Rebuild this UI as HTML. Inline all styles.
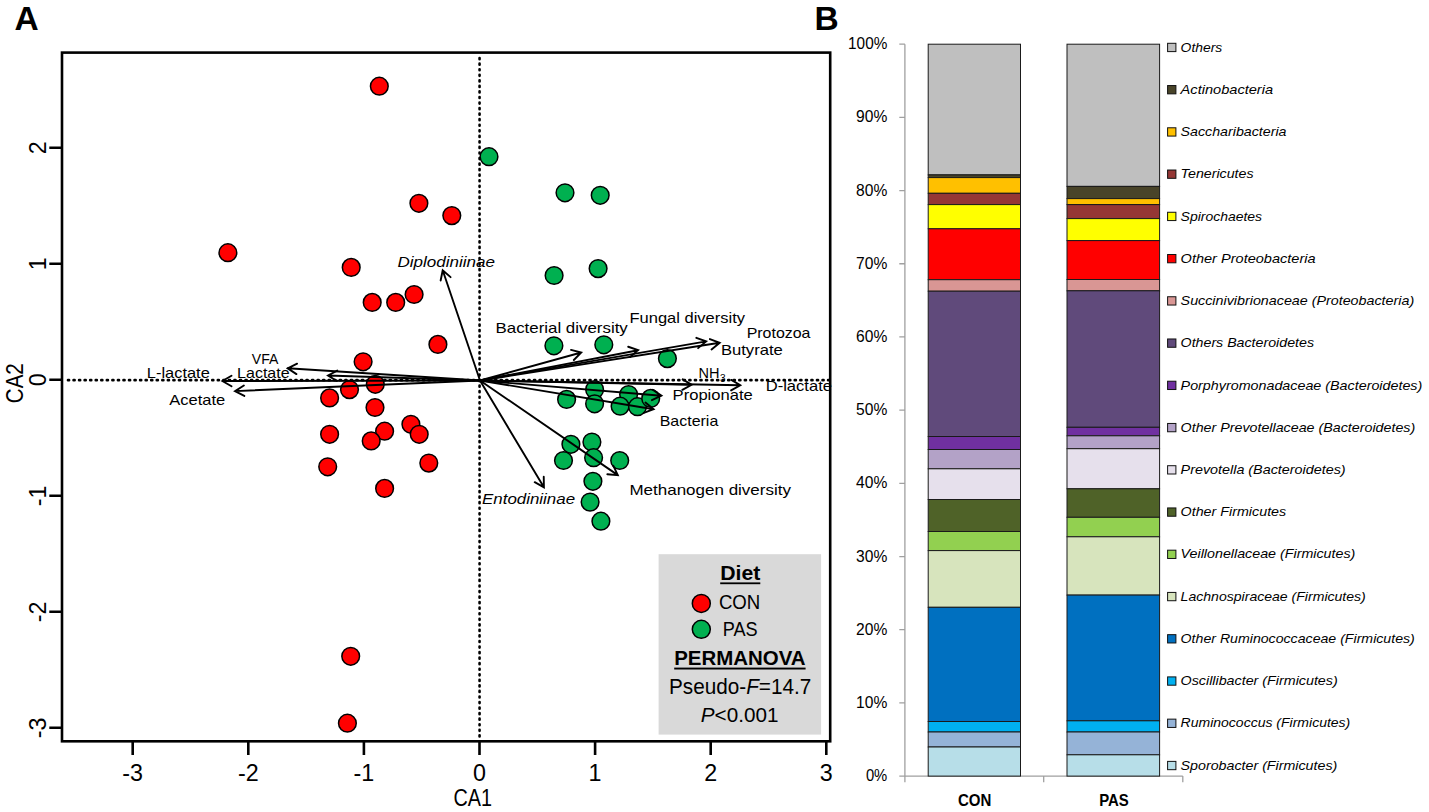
<!DOCTYPE html>
<html><head><meta charset="utf-8"><style>
html,body{margin:0;padding:0;background:#fff;}
svg{display:block;font-family:"Liberation Sans", sans-serif;}
</style></head><body>
<svg width="1429" height="812" viewBox="0 0 1429 812">
<rect width="1429" height="812" fill="#fff"/>
<text x="14.6" y="29.6" font-size="33.5" text-anchor="start" font-weight="bold" font-style="normal" fill="#000" >A</text>
<text x="814.6" y="29.6" font-size="33.5" text-anchor="start" font-weight="bold" font-style="normal" fill="#000" >B</text>
<rect x="62" y="52.6" width="768.2" height="688.6999999999999" fill="none" stroke="#000" stroke-width="2.6"/>
<text x="132.70" y="780.6" font-size="23.3" text-anchor="middle" font-weight="normal" font-style="normal" fill="#000" >-3</text>
<text x="248.30" y="780.6" font-size="23.3" text-anchor="middle" font-weight="normal" font-style="normal" fill="#000" >-2</text>
<text x="363.90" y="780.6" font-size="23.3" text-anchor="middle" font-weight="normal" font-style="normal" fill="#000" >-1</text>
<text x="479.50" y="780.6" font-size="23.3" text-anchor="middle" font-weight="normal" font-style="normal" fill="#000" >0</text>
<text x="595.10" y="780.6" font-size="23.3" text-anchor="middle" font-weight="normal" font-style="normal" fill="#000" >1</text>
<text x="710.70" y="780.6" font-size="23.3" text-anchor="middle" font-weight="normal" font-style="normal" fill="#000" >2</text>
<text x="826.30" y="780.6" font-size="23.3" text-anchor="middle" font-weight="normal" font-style="normal" fill="#000" >3</text>
<text transform="translate(45.6,727.80) rotate(-90)" font-size="23.3" text-anchor="middle">-3</text>
<text transform="translate(45.6,611.80) rotate(-90)" font-size="23.3" text-anchor="middle">-2</text>
<text transform="translate(45.6,495.80) rotate(-90)" font-size="23.3" text-anchor="middle">-1</text>
<text transform="translate(45.6,379.80) rotate(-90)" font-size="23.3" text-anchor="middle">0</text>
<text transform="translate(45.6,263.80) rotate(-90)" font-size="23.3" text-anchor="middle">1</text>
<text transform="translate(45.6,147.80) rotate(-90)" font-size="23.3" text-anchor="middle">2</text>
<path d="M132.70,741.3L132.70,755 M248.30,741.3L248.30,755 M363.90,741.3L363.90,755 M479.50,741.3L479.50,755 M595.10,741.3L595.10,755 M710.70,741.3L710.70,755 M826.30,741.3L826.30,755 M49.3,727.80L62,727.80 M49.3,611.80L62,611.80 M49.3,495.80L62,495.80 M49.3,379.80L62,379.80 M49.3,263.80L62,263.80 M49.3,147.80L62,147.80" stroke="#000" stroke-width="2.6" fill="none"/>
<text x="472.7" y="805.6" font-size="23.3" text-anchor="middle" font-weight="normal" font-style="normal" fill="#000" textLength="38.5" lengthAdjust="spacingAndGlyphs" >CA1</text>
<text transform="translate(23.2,383.2) rotate(-90)" font-size="23.3" text-anchor="middle" textLength="40" lengthAdjust="spacingAndGlyphs">CA2</text>
<line x1="67.99" y1="380.17" x2="829" y2="380.17" stroke="#000" stroke-width="2.6" stroke-dasharray="1.1 4.448" stroke-linecap="round"/>
<line x1="479.56" y1="58.1" x2="479.56" y2="740" stroke="#000" stroke-width="2.6" stroke-dasharray="1.1 4.4508" stroke-linecap="round"/>
<circle cx="379.3" cy="86.2" r="8.85" fill="#FF0000" stroke="#000" stroke-width="1.5"/>
<circle cx="418.9" cy="203.3" r="8.85" fill="#FF0000" stroke="#000" stroke-width="1.5"/>
<circle cx="451.8" cy="215.6" r="8.85" fill="#FF0000" stroke="#000" stroke-width="1.5"/>
<circle cx="227.9" cy="252.7" r="8.85" fill="#FF0000" stroke="#000" stroke-width="1.5"/>
<circle cx="351.2" cy="267.4" r="8.85" fill="#FF0000" stroke="#000" stroke-width="1.5"/>
<circle cx="372.2" cy="302.4" r="8.85" fill="#FF0000" stroke="#000" stroke-width="1.5"/>
<circle cx="395.7" cy="302.4" r="8.85" fill="#FF0000" stroke="#000" stroke-width="1.5"/>
<circle cx="414.1" cy="294.5" r="8.85" fill="#FF0000" stroke="#000" stroke-width="1.5"/>
<circle cx="437.9" cy="344.4" r="8.85" fill="#FF0000" stroke="#000" stroke-width="1.5"/>
<circle cx="363.1" cy="361.8" r="8.85" fill="#FF0000" stroke="#000" stroke-width="1.5"/>
<circle cx="375.3" cy="384.3" r="8.85" fill="#FF0000" stroke="#000" stroke-width="1.5"/>
<circle cx="349.5" cy="389.6" r="8.85" fill="#FF0000" stroke="#000" stroke-width="1.5"/>
<circle cx="329.6" cy="397.9" r="8.85" fill="#FF0000" stroke="#000" stroke-width="1.5"/>
<circle cx="375" cy="407.5" r="8.85" fill="#FF0000" stroke="#000" stroke-width="1.5"/>
<circle cx="329.6" cy="434.3" r="8.85" fill="#FF0000" stroke="#000" stroke-width="1.5"/>
<circle cx="384.6" cy="431.2" r="8.85" fill="#FF0000" stroke="#000" stroke-width="1.5"/>
<circle cx="371.2" cy="440.9" r="8.85" fill="#FF0000" stroke="#000" stroke-width="1.5"/>
<circle cx="410.9" cy="424.3" r="8.85" fill="#FF0000" stroke="#000" stroke-width="1.5"/>
<circle cx="419.2" cy="434.3" r="8.85" fill="#FF0000" stroke="#000" stroke-width="1.5"/>
<circle cx="327.7" cy="466.8" r="8.85" fill="#FF0000" stroke="#000" stroke-width="1.5"/>
<circle cx="428.8" cy="463.1" r="8.85" fill="#FF0000" stroke="#000" stroke-width="1.5"/>
<circle cx="384.6" cy="488.4" r="8.85" fill="#FF0000" stroke="#000" stroke-width="1.5"/>
<circle cx="350.7" cy="656.3" r="8.85" fill="#FF0000" stroke="#000" stroke-width="1.5"/>
<circle cx="347.4" cy="723.2" r="8.85" fill="#FF0000" stroke="#000" stroke-width="1.5"/>
<circle cx="489" cy="156.7" r="8.85" fill="#00B050" stroke="#000" stroke-width="1.5"/>
<circle cx="565" cy="192.8" r="8.85" fill="#00B050" stroke="#000" stroke-width="1.5"/>
<circle cx="600.2" cy="195.3" r="8.85" fill="#00B050" stroke="#000" stroke-width="1.5"/>
<circle cx="554.1" cy="275.5" r="8.85" fill="#00B050" stroke="#000" stroke-width="1.5"/>
<circle cx="598.1" cy="268.6" r="8.85" fill="#00B050" stroke="#000" stroke-width="1.5"/>
<circle cx="553.9" cy="345.8" r="8.85" fill="#00B050" stroke="#000" stroke-width="1.5"/>
<circle cx="603.8" cy="344.8" r="8.85" fill="#00B050" stroke="#000" stroke-width="1.5"/>
<circle cx="667.4" cy="358.6" r="8.85" fill="#00B050" stroke="#000" stroke-width="1.5"/>
<circle cx="594.6" cy="389.6" r="8.85" fill="#00B050" stroke="#000" stroke-width="1.5"/>
<circle cx="566.6" cy="399.4" r="8.85" fill="#00B050" stroke="#000" stroke-width="1.5"/>
<circle cx="594.6" cy="403.8" r="8.85" fill="#00B050" stroke="#000" stroke-width="1.5"/>
<circle cx="628.6" cy="394.5" r="8.85" fill="#00B050" stroke="#000" stroke-width="1.5"/>
<circle cx="620.1" cy="406.2" r="8.85" fill="#00B050" stroke="#000" stroke-width="1.5"/>
<circle cx="637.5" cy="406.7" r="8.85" fill="#00B050" stroke="#000" stroke-width="1.5"/>
<circle cx="650.7" cy="398.4" r="8.85" fill="#00B050" stroke="#000" stroke-width="1.5"/>
<circle cx="570.9" cy="444.3" r="8.85" fill="#00B050" stroke="#000" stroke-width="1.5"/>
<circle cx="591.9" cy="442" r="8.85" fill="#00B050" stroke="#000" stroke-width="1.5"/>
<circle cx="563.5" cy="460.5" r="8.85" fill="#00B050" stroke="#000" stroke-width="1.5"/>
<circle cx="593.6" cy="457.7" r="8.85" fill="#00B050" stroke="#000" stroke-width="1.5"/>
<circle cx="619.7" cy="460.5" r="8.85" fill="#00B050" stroke="#000" stroke-width="1.5"/>
<circle cx="592.9" cy="481.3" r="8.85" fill="#00B050" stroke="#000" stroke-width="1.5"/>
<circle cx="590.1" cy="502.1" r="8.85" fill="#00B050" stroke="#000" stroke-width="1.5"/>
<circle cx="600.9" cy="521.2" r="8.85" fill="#00B050" stroke="#000" stroke-width="1.5"/>
<path d="M480.0,380.5L442.70,270.20M440.64,280.50L442.70,270.20L450.59,277.13" fill="none" stroke="#000" stroke-width="1.9" stroke-linecap="round" stroke-linejoin="miter"/>
<path d="M480.0,380.5L287.70,368.30M296.44,374.12L287.70,368.30L297.11,363.64" fill="none" stroke="#000" stroke-width="1.9" stroke-linecap="round" stroke-linejoin="miter"/>
<path d="M480.0,380.5L328.00,375.50M336.92,381.05L328.00,375.50L337.26,370.55" fill="none" stroke="#000" stroke-width="1.9" stroke-linecap="round" stroke-linejoin="miter"/>
<path d="M480.0,380.5L222.40,381.00M231.50,386.23L222.40,381.00L231.48,375.73" fill="none" stroke="#000" stroke-width="1.9" stroke-linecap="round" stroke-linejoin="miter"/>
<path d="M480.0,380.5L235.00,391.10M244.31,395.95L235.00,391.10L243.86,385.46" fill="none" stroke="#000" stroke-width="1.9" stroke-linecap="round" stroke-linejoin="miter"/>
<path d="M480.0,380.5L581.20,352.50M571.04,349.86L581.20,352.50L573.84,359.98" fill="none" stroke="#000" stroke-width="1.9" stroke-linecap="round" stroke-linejoin="miter"/>
<path d="M480.0,380.5L638.10,350.20M628.18,346.76L638.10,350.20L630.16,357.07" fill="none" stroke="#000" stroke-width="1.9" stroke-linecap="round" stroke-linejoin="miter"/>
<path d="M480.0,380.5L706.20,341.40M696.35,337.78L706.20,341.40L698.13,348.12" fill="none" stroke="#000" stroke-width="1.9" stroke-linecap="round" stroke-linejoin="miter"/>
<path d="M480.0,380.5L719.70,342.80M709.90,339.03L719.70,342.80L711.53,349.40" fill="none" stroke="#000" stroke-width="1.9" stroke-linecap="round" stroke-linejoin="miter"/>
<path d="M480.0,380.5L691.60,384.80M682.62,379.37L691.60,384.80L682.40,389.86" fill="none" stroke="#000" stroke-width="1.9" stroke-linecap="round" stroke-linejoin="miter"/>
<path d="M480.0,380.5L740.30,385.30M731.31,379.88L740.30,385.30L731.11,390.38" fill="none" stroke="#000" stroke-width="1.9" stroke-linecap="round" stroke-linejoin="miter"/>
<path d="M480.0,380.5L661.40,395.70M652.78,389.71L661.40,395.70L651.90,400.17" fill="none" stroke="#000" stroke-width="1.9" stroke-linecap="round" stroke-linejoin="miter"/>
<path d="M480.0,380.5L653.60,409.20M645.48,402.54L653.60,409.20L643.77,412.90" fill="none" stroke="#000" stroke-width="1.9" stroke-linecap="round" stroke-linejoin="miter"/>
<path d="M480.0,380.5L543.90,487.30M543.74,476.80L543.90,487.30L534.73,482.19" fill="none" stroke="#000" stroke-width="1.9" stroke-linecap="round" stroke-linejoin="miter"/>
<path d="M480.0,380.5L617.80,475.10M613.27,465.63L617.80,475.10L607.33,474.28" fill="none" stroke="#000" stroke-width="1.9" stroke-linecap="round" stroke-linejoin="miter"/>
<text x="397.4" y="266.7" font-size="15" text-anchor="start" font-weight="normal" font-style="italic" fill="#000" textLength="97.6" lengthAdjust="spacingAndGlyphs" >Diplodiniinae</text>
<text x="251.8" y="363.8" font-size="15" text-anchor="start" font-weight="normal" font-style="normal" fill="#000" textLength="26.6" lengthAdjust="spacingAndGlyphs" >VFA</text>
<text x="237.1" y="377.8" font-size="15" text-anchor="start" font-weight="normal" font-style="normal" fill="#000" textLength="52.5" lengthAdjust="spacingAndGlyphs" >Lactate</text>
<text x="146.8" y="377.8" font-size="15" text-anchor="start" font-weight="normal" font-style="normal" fill="#000" textLength="63" lengthAdjust="spacingAndGlyphs" >L-lactate</text>
<text x="169.2" y="405.1" font-size="15" text-anchor="start" font-weight="normal" font-style="normal" fill="#000" textLength="56" lengthAdjust="spacingAndGlyphs" >Acetate</text>
<text x="495.5" y="332.5" font-size="15" text-anchor="start" font-weight="normal" font-style="normal" fill="#000" textLength="132.3" lengthAdjust="spacingAndGlyphs" >Bacterial diversity</text>
<text x="629.5" y="323.3" font-size="15" text-anchor="start" font-weight="normal" font-style="normal" fill="#000" textLength="115.5" lengthAdjust="spacingAndGlyphs" >Fungal diversity</text>
<text x="746.7" y="337.6" font-size="15" text-anchor="start" font-weight="normal" font-style="normal" fill="#000" textLength="63.8" lengthAdjust="spacingAndGlyphs" >Protozoa</text>
<text x="720.9" y="355.2" font-size="15" text-anchor="start" font-weight="normal" font-style="normal" fill="#000" textLength="62" lengthAdjust="spacingAndGlyphs" >Butyrate</text>
<text x="765.7" y="390.7" font-size="15" text-anchor="start" font-weight="normal" font-style="normal" fill="#000" textLength="66.3" lengthAdjust="spacingAndGlyphs" >D-lactate</text>
<text x="672.6" y="400" font-size="15" text-anchor="start" font-weight="normal" font-style="normal" fill="#000" textLength="80.2" lengthAdjust="spacingAndGlyphs" >Propionate</text>
<text x="659.7" y="425.9" font-size="15" text-anchor="start" font-weight="normal" font-style="normal" fill="#000" textLength="58.6" lengthAdjust="spacingAndGlyphs" >Bacteria</text>
<text x="482" y="504.4" font-size="15" text-anchor="start" font-weight="normal" font-style="italic" fill="#000" textLength="93.1" lengthAdjust="spacingAndGlyphs" >Entodiniinae</text>
<text x="629.4" y="495.2" font-size="15" text-anchor="start" font-weight="normal" font-style="normal" fill="#000" textLength="161.6" lengthAdjust="spacingAndGlyphs" >Methanogen diversity</text>
<text x="698.4" y="378.4" font-size="15" text-anchor="start" font-weight="normal" font-style="normal" fill="#000" textLength="21" lengthAdjust="spacingAndGlyphs" >NH</text>
<text x="720" y="381.5" font-size="10" text-anchor="start" font-weight="normal" font-style="normal" fill="#000" >3</text>
<rect x="658.6" y="554.2" width="162.5" height="180.4" fill="#D9D9D9"/>
<text x="720.2" y="580.1" font-size="20" text-anchor="start" font-weight="bold" font-style="normal" fill="#000" textLength="40.1" lengthAdjust="spacingAndGlyphs" >Diet</text>
<rect x="720.2" y="582.4" width="40.1" height="1.8" fill="#000"/>
<circle cx="701.3" cy="603.4" r="9" fill="#FF0000" stroke="#000" stroke-width="1.5"/>
<text x="718.9" y="608.6" font-size="20" text-anchor="start" font-weight="normal" font-style="normal" fill="#000" textLength="41.4" lengthAdjust="spacingAndGlyphs" >CON</text>
<circle cx="701.3" cy="629.3" r="9" fill="#00B050" stroke="#000" stroke-width="1.5"/>
<text x="722.8" y="636.2" font-size="20" text-anchor="start" font-weight="normal" font-style="normal" fill="#000" textLength="34.9" lengthAdjust="spacingAndGlyphs" >PAS</text>
<text x="674.2" y="664.7" font-size="20" text-anchor="start" font-weight="bold" font-style="normal" fill="#000" textLength="131.4" lengthAdjust="spacingAndGlyphs" >PERMANOVA</text>
<rect x="674.2" y="667.6" width="131.4" height="1.9" fill="#000"/>
<text x="669" y="693.9" font-size="21.3" textLength="142.3" lengthAdjust="spacingAndGlyphs">Pseudo-<tspan font-style="italic">F</tspan>=14.7</text>
<text x="700.8" y="721.9" font-size="21" textLength="77.6" lengthAdjust="spacingAndGlyphs"><tspan font-style="italic">P</tspan>&lt;0.001</text>
<text x="887.3" y="781.10" font-size="17" text-anchor="end" font-weight="normal" font-style="normal" fill="#000" textLength="21.4" lengthAdjust="spacingAndGlyphs" >0%</text>
<text x="887.3" y="707.91" font-size="17" text-anchor="end" font-weight="normal" font-style="normal" fill="#000" textLength="31.2" lengthAdjust="spacingAndGlyphs" >10%</text>
<text x="887.3" y="634.72" font-size="17" text-anchor="end" font-weight="normal" font-style="normal" fill="#000" textLength="31.2" lengthAdjust="spacingAndGlyphs" >20%</text>
<text x="887.3" y="561.53" font-size="17" text-anchor="end" font-weight="normal" font-style="normal" fill="#000" textLength="31.2" lengthAdjust="spacingAndGlyphs" >30%</text>
<text x="887.3" y="488.34" font-size="17" text-anchor="end" font-weight="normal" font-style="normal" fill="#000" textLength="31.2" lengthAdjust="spacingAndGlyphs" >40%</text>
<text x="887.3" y="415.15" font-size="17" text-anchor="end" font-weight="normal" font-style="normal" fill="#000" textLength="31.2" lengthAdjust="spacingAndGlyphs" >50%</text>
<text x="887.3" y="341.96" font-size="17" text-anchor="end" font-weight="normal" font-style="normal" fill="#000" textLength="31.2" lengthAdjust="spacingAndGlyphs" >60%</text>
<text x="887.3" y="268.77" font-size="17" text-anchor="end" font-weight="normal" font-style="normal" fill="#000" textLength="31.2" lengthAdjust="spacingAndGlyphs" >70%</text>
<text x="887.3" y="195.58" font-size="17" text-anchor="end" font-weight="normal" font-style="normal" fill="#000" textLength="31.2" lengthAdjust="spacingAndGlyphs" >80%</text>
<text x="887.3" y="122.39" font-size="17" text-anchor="end" font-weight="normal" font-style="normal" fill="#000" textLength="31.2" lengthAdjust="spacingAndGlyphs" >90%</text>
<text x="887.3" y="49.20" font-size="17" text-anchor="end" font-weight="normal" font-style="normal" fill="#000" textLength="39.2" lengthAdjust="spacingAndGlyphs" >100%</text>
<path d="M904.9,44.2L904.9,776.1 M899.3,776.10L904.9,776.10 M899.3,702.91L904.9,702.91 M899.3,629.72L904.9,629.72 M899.3,556.53L904.9,556.53 M899.3,483.34L904.9,483.34 M899.3,410.15L904.9,410.15 M899.3,336.96L904.9,336.96 M899.3,263.77L904.9,263.77 M899.3,190.58L904.9,190.58 M899.3,117.39L904.9,117.39 M899.3,44.20L904.9,44.20 M904.9,776.1L1182.8,776.1 M904.9,776.1L904.9,782.3 M1043.7,776.1L1043.7,782.3 M1182.8,776.1L1182.8,782.3" stroke="#A0A0A0" stroke-width="1.3" fill="none"/>
<rect x="928.2" y="44.2" width="92.3" height="130.70" fill="#BFBFBF" stroke="#1A1A1A" stroke-width="1"/>
<rect x="928.2" y="174.9" width="92.3" height="2.70" fill="#494429" stroke="#1A1A1A" stroke-width="1"/>
<rect x="928.2" y="177.6" width="92.3" height="15.70" fill="#FFC000" stroke="#1A1A1A" stroke-width="1"/>
<rect x="928.2" y="193.3" width="92.3" height="11.30" fill="#953735" stroke="#1A1A1A" stroke-width="1"/>
<rect x="928.2" y="204.6" width="92.3" height="24.20" fill="#FFFF00" stroke="#1A1A1A" stroke-width="1"/>
<rect x="928.2" y="228.8" width="92.3" height="50.90" fill="#FF0000" stroke="#1A1A1A" stroke-width="1"/>
<rect x="928.2" y="279.7" width="92.3" height="11.50" fill="#D99694" stroke="#1A1A1A" stroke-width="1"/>
<rect x="928.2" y="291.2" width="92.3" height="145.30" fill="#604A7B" stroke="#1A1A1A" stroke-width="1"/>
<rect x="928.2" y="436.5" width="92.3" height="13.00" fill="#7030A0" stroke="#1A1A1A" stroke-width="1"/>
<rect x="928.2" y="449.5" width="92.3" height="19.30" fill="#B3A2C7" stroke="#1A1A1A" stroke-width="1"/>
<rect x="928.2" y="468.8" width="92.3" height="30.70" fill="#E6E0EC" stroke="#1A1A1A" stroke-width="1"/>
<rect x="928.2" y="499.5" width="92.3" height="32.00" fill="#4F6228" stroke="#1A1A1A" stroke-width="1"/>
<rect x="928.2" y="531.5" width="92.3" height="19.10" fill="#92D050" stroke="#1A1A1A" stroke-width="1"/>
<rect x="928.2" y="550.6" width="92.3" height="56.70" fill="#D7E4BD" stroke="#1A1A1A" stroke-width="1"/>
<rect x="928.2" y="607.3" width="92.3" height="114.20" fill="#0070C0" stroke="#1A1A1A" stroke-width="1"/>
<rect x="928.2" y="721.5" width="92.3" height="10.50" fill="#00B0F0" stroke="#1A1A1A" stroke-width="1"/>
<rect x="928.2" y="732" width="92.3" height="15.00" fill="#95B3D7" stroke="#1A1A1A" stroke-width="1"/>
<rect x="928.2" y="747" width="92.3" height="29.10" fill="#B7DEE8" stroke="#1A1A1A" stroke-width="1"/>
<rect x="1067" y="44.2" width="92.6" height="142.20" fill="#BFBFBF" stroke="#1A1A1A" stroke-width="1"/>
<rect x="1067" y="186.4" width="92.6" height="12.20" fill="#494429" stroke="#1A1A1A" stroke-width="1"/>
<rect x="1067" y="198.6" width="92.6" height="6.00" fill="#FFC000" stroke="#1A1A1A" stroke-width="1"/>
<rect x="1067" y="204.6" width="92.6" height="14.00" fill="#953735" stroke="#1A1A1A" stroke-width="1"/>
<rect x="1067" y="218.6" width="92.6" height="22.00" fill="#FFFF00" stroke="#1A1A1A" stroke-width="1"/>
<rect x="1067" y="240.6" width="92.6" height="38.90" fill="#FF0000" stroke="#1A1A1A" stroke-width="1"/>
<rect x="1067" y="279.5" width="92.6" height="11.30" fill="#D99694" stroke="#1A1A1A" stroke-width="1"/>
<rect x="1067" y="290.8" width="92.6" height="136.50" fill="#604A7B" stroke="#1A1A1A" stroke-width="1"/>
<rect x="1067" y="427.3" width="92.6" height="8.50" fill="#7030A0" stroke="#1A1A1A" stroke-width="1"/>
<rect x="1067" y="435.8" width="92.6" height="12.90" fill="#B3A2C7" stroke="#1A1A1A" stroke-width="1"/>
<rect x="1067" y="448.7" width="92.6" height="40.10" fill="#E6E0EC" stroke="#1A1A1A" stroke-width="1"/>
<rect x="1067" y="488.8" width="92.6" height="28.50" fill="#4F6228" stroke="#1A1A1A" stroke-width="1"/>
<rect x="1067" y="517.3" width="92.6" height="19.50" fill="#92D050" stroke="#1A1A1A" stroke-width="1"/>
<rect x="1067" y="536.8" width="92.6" height="58.30" fill="#D7E4BD" stroke="#1A1A1A" stroke-width="1"/>
<rect x="1067" y="595.1" width="92.6" height="125.70" fill="#0070C0" stroke="#1A1A1A" stroke-width="1"/>
<rect x="1067" y="720.8" width="92.6" height="11.20" fill="#00B0F0" stroke="#1A1A1A" stroke-width="1"/>
<rect x="1067" y="732" width="92.6" height="22.80" fill="#95B3D7" stroke="#1A1A1A" stroke-width="1"/>
<rect x="1067" y="754.8" width="92.6" height="21.30" fill="#B7DEE8" stroke="#1A1A1A" stroke-width="1"/>
<text x="957.9" y="805.6" font-size="16.3" text-anchor="start" font-weight="bold" font-style="normal" fill="#000" textLength="33.4" lengthAdjust="spacingAndGlyphs" >CON</text>
<text x="1099.2" y="805.6" font-size="16.3" text-anchor="start" font-weight="bold" font-style="normal" fill="#000" textLength="29.6" lengthAdjust="spacingAndGlyphs" >PAS</text>
<rect x="1167.6" y="43.30" width="8.3" height="8.3" fill="#BFBFBF" stroke="#111" stroke-width="1"/>
<text x="1180.6" y="51.60" font-size="13" text-anchor="start" font-weight="normal" font-style="italic" fill="#000" textLength="41.6" lengthAdjust="spacingAndGlyphs" >Others</text>
<rect x="1167.6" y="85.54" width="8.3" height="8.3" fill="#494429" stroke="#111" stroke-width="1"/>
<text x="1180.6" y="93.84" font-size="13" text-anchor="start" font-weight="normal" font-style="italic" fill="#000" textLength="92.5" lengthAdjust="spacingAndGlyphs" >Actinobacteria</text>
<rect x="1167.6" y="127.78" width="8.3" height="8.3" fill="#FFC000" stroke="#111" stroke-width="1"/>
<text x="1180.6" y="136.08" font-size="13" text-anchor="start" font-weight="normal" font-style="italic" fill="#000" textLength="105.9" lengthAdjust="spacingAndGlyphs" >Saccharibacteria</text>
<rect x="1167.6" y="170.02" width="8.3" height="8.3" fill="#953735" stroke="#111" stroke-width="1"/>
<text x="1180.6" y="178.32" font-size="13" text-anchor="start" font-weight="normal" font-style="italic" fill="#000" textLength="73.0" lengthAdjust="spacingAndGlyphs" >Tenericutes</text>
<rect x="1167.6" y="212.26" width="8.3" height="8.3" fill="#FFFF00" stroke="#111" stroke-width="1"/>
<text x="1180.6" y="220.56" font-size="13" text-anchor="start" font-weight="normal" font-style="italic" fill="#000" textLength="81.5" lengthAdjust="spacingAndGlyphs" >Spirochaetes</text>
<rect x="1167.6" y="254.50" width="8.3" height="8.3" fill="#FF0000" stroke="#111" stroke-width="1"/>
<text x="1180.6" y="262.80" font-size="13" text-anchor="start" font-weight="normal" font-style="italic" fill="#000" textLength="135.0" lengthAdjust="spacingAndGlyphs" >Other Proteobacteria</text>
<rect x="1167.6" y="296.74" width="8.3" height="8.3" fill="#D99694" stroke="#111" stroke-width="1"/>
<text x="1180.6" y="305.04" font-size="13" text-anchor="start" font-weight="normal" font-style="italic" fill="#000" textLength="233.6" lengthAdjust="spacingAndGlyphs" >Succinivibrionaceae (Proteobacteria)</text>
<rect x="1167.6" y="338.98" width="8.3" height="8.3" fill="#604A7B" stroke="#111" stroke-width="1"/>
<text x="1180.6" y="347.28" font-size="13" text-anchor="start" font-weight="normal" font-style="italic" fill="#000" textLength="133.4" lengthAdjust="spacingAndGlyphs" >Others Bacteroidetes</text>
<rect x="1167.6" y="381.22" width="8.3" height="8.3" fill="#7030A0" stroke="#111" stroke-width="1"/>
<text x="1180.6" y="389.52" font-size="13" text-anchor="start" font-weight="normal" font-style="italic" fill="#000" textLength="241.7" lengthAdjust="spacingAndGlyphs" >Porphyromonadaceae (Bacteroidetes)</text>
<rect x="1167.6" y="423.46" width="8.3" height="8.3" fill="#B3A2C7" stroke="#111" stroke-width="1"/>
<text x="1180.6" y="431.76" font-size="13" text-anchor="start" font-weight="normal" font-style="italic" fill="#000" textLength="234.6" lengthAdjust="spacingAndGlyphs" >Other Prevotellaceae (Bacteroidetes)</text>
<rect x="1167.6" y="465.70" width="8.3" height="8.3" fill="#E6E0EC" stroke="#111" stroke-width="1"/>
<text x="1180.6" y="474.00" font-size="13" text-anchor="start" font-weight="normal" font-style="italic" fill="#000" textLength="165.0" lengthAdjust="spacingAndGlyphs" >Prevotella (Bacteroidetes)</text>
<rect x="1167.6" y="507.94" width="8.3" height="8.3" fill="#4F6228" stroke="#111" stroke-width="1"/>
<text x="1180.6" y="516.24" font-size="13" text-anchor="start" font-weight="normal" font-style="italic" fill="#000" textLength="105.6" lengthAdjust="spacingAndGlyphs" >Other Firmicutes</text>
<rect x="1167.6" y="550.18" width="8.3" height="8.3" fill="#92D050" stroke="#111" stroke-width="1"/>
<text x="1180.6" y="558.48" font-size="13" text-anchor="start" font-weight="normal" font-style="italic" fill="#000" textLength="174.7" lengthAdjust="spacingAndGlyphs" >Veillonellaceae (Firmicutes)</text>
<rect x="1167.6" y="592.42" width="8.3" height="8.3" fill="#D7E4BD" stroke="#111" stroke-width="1"/>
<text x="1180.6" y="600.72" font-size="13" text-anchor="start" font-weight="normal" font-style="italic" fill="#000" textLength="185.2" lengthAdjust="spacingAndGlyphs" >Lachnospiraceae (Firmicutes)</text>
<rect x="1167.6" y="634.66" width="8.3" height="8.3" fill="#0070C0" stroke="#111" stroke-width="1"/>
<text x="1180.6" y="642.96" font-size="13" text-anchor="start" font-weight="normal" font-style="italic" fill="#000" textLength="234.2" lengthAdjust="spacingAndGlyphs" >Other Ruminococcaceae (Firmicutes)</text>
<rect x="1167.6" y="676.90" width="8.3" height="8.3" fill="#00B0F0" stroke="#111" stroke-width="1"/>
<text x="1180.6" y="685.20" font-size="13" text-anchor="start" font-weight="normal" font-style="italic" fill="#000" textLength="157.1" lengthAdjust="spacingAndGlyphs" >Oscillibacter (Firmicutes)</text>
<rect x="1167.6" y="719.14" width="8.3" height="8.3" fill="#95B3D7" stroke="#111" stroke-width="1"/>
<text x="1180.6" y="727.44" font-size="13" text-anchor="start" font-weight="normal" font-style="italic" fill="#000" textLength="169.7" lengthAdjust="spacingAndGlyphs" >Ruminococcus (Firmicutes)</text>
<rect x="1167.6" y="761.38" width="8.3" height="8.3" fill="#B7DEE8" stroke="#111" stroke-width="1"/>
<text x="1180.6" y="769.68" font-size="13" text-anchor="start" font-weight="normal" font-style="italic" fill="#000" textLength="156.7" lengthAdjust="spacingAndGlyphs" >Sporobacter (Firmicutes)</text>
</svg></body></html>
